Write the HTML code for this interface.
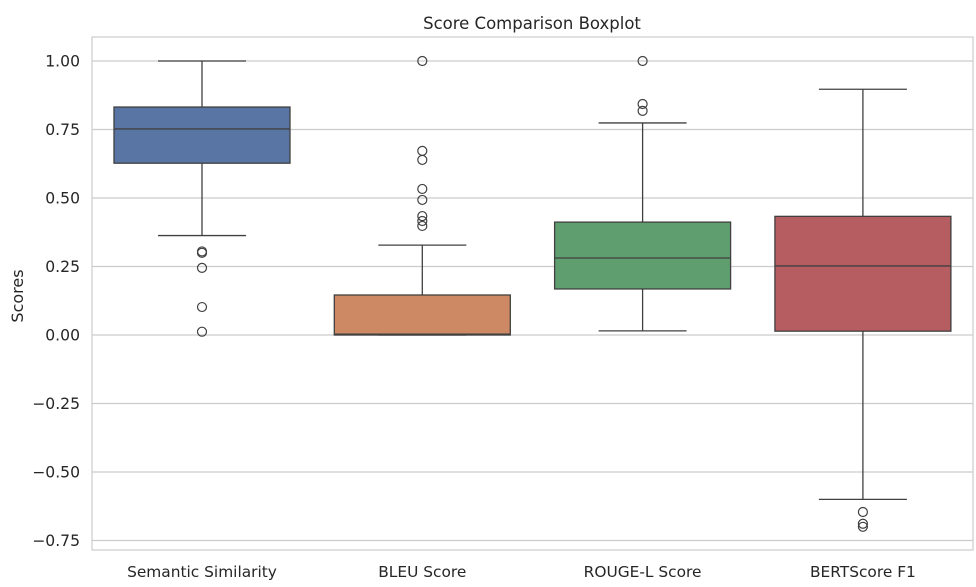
<!DOCTYPE html>
<html><head><meta charset="utf-8"><style>
body{margin:0;background:#fff;font-family:"DejaVu Sans","Liberation Sans",sans-serif;}
svg text{font-family:"DejaVu Sans","Liberation Sans",sans-serif;fill:#262626;}
</style></head><body>
<svg id="chart" width="976" height="583">
<rect x="0" y="0" width="976" height="583" fill="#fff"/>
<text x="532" y="29" font-size="16.5" text-anchor="middle">Score Comparison Boxplot</text>
<text transform="translate(23,296) rotate(-90)" font-size="16" text-anchor="middle">Scores</text>
<g id="grid"></g><g id="boxes"></g><g id="axes"></g>
<rect x="92" y="37" width="881" height="513" fill="none" stroke="#cccccc" stroke-width="1.2"/>
</svg>
<script>
const categories=["Semantic Similarity","BLEU Score","ROUGE-L Score","BERTScore F1"];
const whiskerLow=[0.363,0.0,0.015,-0.60];
const q1=[0.627,0.0,0.168,0.014];
const medians=[0.752,0.003,0.281,0.252];
const q3=[0.832,0.146,0.412,0.433];
const whiskerHigh=[1.0,0.328,0.774,0.897];
const outliers=[[0.305,0.300,0.245,0.102,0.012],[1.0,0.672,0.639,0.533,0.493,0.434,0.416,0.398],[1.0,0.843,0.818],[-0.646,-0.689,-0.700]];
const yTicks=[1.0,0.75,0.5,0.25,0.0,-0.25,-0.5,-0.75];
const yTickLabels=["1.00","0.75","0.50","0.25","0.00","\u22120.25","\u22120.50","\u22120.75"];
const colors=["#5975a4","#cc8963","#5f9e6e","#b55d60"];
const NS="http://www.w3.org/2000/svg";
function y(v){return 335-v*274;}
function x(i){return 202+i*220.3;}
function mk(tag,attrs,parent){const e=document.createElementNS(NS,tag);for(const k in attrs)e.setAttribute(k,attrs[k]);parent.appendChild(e);return e;}
const grid=document.getElementById('grid'),boxes=document.getElementById('boxes'),axes=document.getElementById('axes');
yTicks.forEach((t,i)=>{
 const l=mk('line',{x1:92,x2:973,y1:y(t),y2:y(t),stroke:'#cccccc','stroke-width':1.2},grid);
 
 
 const tx=mk('text',{x:80,y:y(t)+5.5,'font-size':15.6,'text-anchor':'end'},axes);
 tx.textContent=yTickLabels[i];
 
 
});
categories.forEach((c,i)=>{
 const cx=x(i),hw=88,lc='#404040';
 const g=mk('g',{},boxes);
 
 
 mk('line',{x1:cx,x2:cx,y1:y(whiskerLow[i]),y2:y(q1[i]),stroke:lc,'stroke-width':1.3},g);
 mk('line',{x1:cx,x2:cx,y1:y(q3[i]),y2:y(whiskerHigh[i]),stroke:lc,'stroke-width':1.3},g);
 mk('line',{x1:cx-44,x2:cx+44,y1:y(whiskerLow[i]),y2:y(whiskerLow[i]),stroke:lc,'stroke-width':1.3},g);
 mk('line',{x1:cx-44,x2:cx+44,y1:y(whiskerHigh[i]),y2:y(whiskerHigh[i]),stroke:lc,'stroke-width':1.3},g);
 mk('rect',{x:cx-hw,y:y(q3[i]),width:2*hw,height:Math.max(1,y(q1[i])-y(q3[i])),fill:colors[i],stroke:lc,'stroke-width':1.3},g);
 mk('line',{x1:cx-hw,x2:cx+hw,y1:y(medians[i]),y2:y(medians[i]),stroke:lc,'stroke-width':1.3},g);
 outliers[i].forEach(v=>{
  const o=mk('circle',{cx:cx,cy:y(v),r:4.5,fill:'none',stroke:lc,'stroke-width':1.2},g);
  
  
 });
 const t=mk('text',{x:cx,y:577,'font-size':15.4,'text-anchor':'middle'},axes);
 t.textContent=c;
 
 
});
</script>
</body></html>
